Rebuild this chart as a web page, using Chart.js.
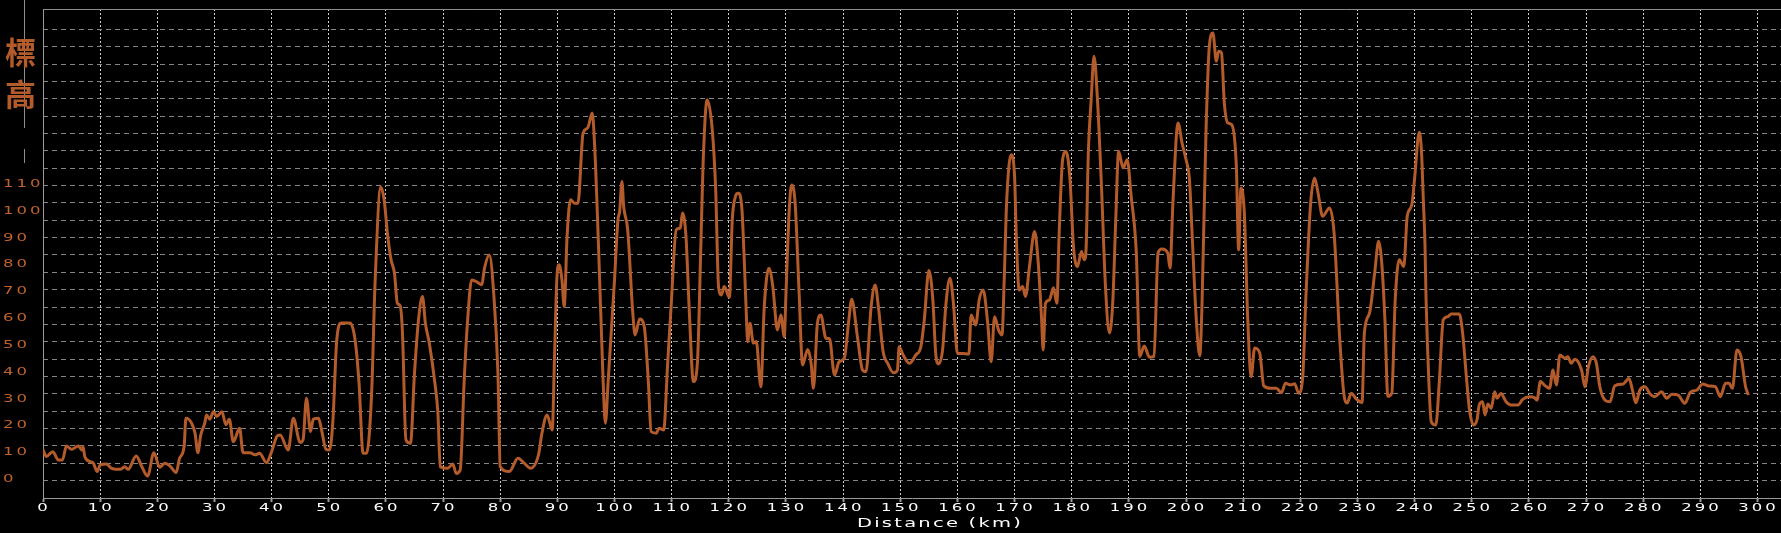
<!DOCTYPE html>
<html>
<head>
<meta charset="utf-8">
<script src="https://cdn.jsdelivr.net/npm/chart.js@4"></script>
<style>
    body { margin: 0; background: #000; }
    canvas { display: block; }
</style>
</head>
<body>
<canvas id="myChart" width="1781" height="533"></canvas>
<script>
// distance along the route (km) and elevation
const distKm = [
    0, 0.6, 1.7, 2.7, 3.4, 4.1, 5.0, 6.2, 6.8, 7.0, 7.3, 8.2, 8.8, 9.5, 10.0, 11.1, 12.0, 13.5, 14.3, 14.9,
    16.3, 17.3, 18.3, 19.4, 20.4, 21.3, 22.2, 23.3, 23.9, 24.7, 25.0, 26.0, 26.6, 27.1, 27.6, 28.3, 28.6, 29.2, 29.8, 30.4,
    31.3, 32.0, 32.6, 33.3, 34.4, 35.0, 36.2, 37.1, 37.9, 39.1, 40.0, 41.0, 41.5, 42.9, 43.8, 45.0, 45.5, 46.1, 46.8, 47.3,
    48.2, 48.8, 49.5, 50.1, 50.7, 51.4, 52.2, 53.7, 54.6, 55.3, 56.0, 56.6, 57.5, 58.1, 59.1, 59.7, 60.3, 60.9, 61.5, 62.0,
    62.5, 62.9, 63.5, 64.3, 65.0, 65.7, 66.4, 66.9, 67.6, 68.5, 69.1, 69.5, 70.8, 71.7, 72.3, 73.0, 73.7, 74.3, 75.0, 75.8,
    76.8, 77.2, 78.1, 78.9, 79.6, 80.0, 81.6, 83.1, 84.2, 85.3, 86.7, 87.3, 88.2, 89.1, 89.5, 89.9, 90.3, 90.8, 91.2, 91.7,
    92.3, 93.0, 93.6, 94.5, 95.3, 96.1, 96.5, 97.2, 98.0, 98.4, 98.9, 100.0, 100.6, 100.9, 101.3, 101.6, 102.3, 103.2, 103.6, 104.4,
    105.2, 105.9, 106.4, 107.3, 107.8, 108.6, 109.3, 109.9, 110.8, 111.5, 111.9, 112.5, 113.1, 113.8, 114.5, 115.1, 115.5, 116.2, 117.1, 117.7,
    118.2, 118.7, 119.2, 120.1, 120.6, 121.0, 121.7, 122.3, 122.7, 123.1, 123.3, 123.7, 124.3, 124.8, 125.6, 126.2, 127.0, 127.7, 128.5, 129.1,
    129.7, 130.0, 130.6, 131.0, 131.6, 132.3, 132.9, 133.8, 134.4, 134.8, 135.5, 136.1, 137.0, 137.6, 138.5, 139.3, 140.2, 141.0, 141.5, 142.5,
    143.4, 144.0, 144.9, 145.6, 146.2, 147.0, 147.8, 148.8, 149.5, 149.8, 150.5, 151.6, 152.7, 153.6, 154.2, 155.0, 155.7, 156.2, 156.7, 157.4,
    158.0, 158.7, 159.3, 160.0, 160.9, 162.0, 162.4, 163.2, 163.8, 164.5, 165.3, 165.9, 166.5, 167.2, 167.8, 168.2, 168.6, 169.4, 170.0, 170.3,
    170.8, 171.4, 171.9, 172.6, 173.5, 174.1, 174.7, 175.0, 175.4, 176.1, 176.8, 177.4, 177.8, 178.4, 179.0, 179.7, 180.3, 181.0, 181.7, 182.2,
    182.5, 182.9, 183.4, 183.9, 184.5, 185.2, 185.9, 186.6, 187.2, 187.7, 188.2, 189.0, 189.7, 190.4, 191.3, 191.9, 192.7, 193.6, 194.4, 195.1,
    195.8, 196.8, 197.2, 197.7, 198.6, 199.3, 200.0, 200.6, 201.0, 201.8, 202.4, 202.8, 203.5, 204.1, 204.7, 205.3, 205.7, 206.2, 206.7, 207.3,
    208.0, 208.8, 209.2, 209.6, 210.2, 210.8, 211.4, 212.0, 212.9, 213.6, 214.9, 215.8, 216.7, 217.4, 218.3, 219.0, 219.7, 220.4, 221.0, 221.8,
    222.5, 223.1, 223.9, 225.1, 225.9, 226.9, 227.6, 228.2, 228.9, 229.8, 230.8, 231.2, 232.1, 233.0, 233.7, 234.2, 234.8, 235.3, 236.0, 236.6,
    237.3, 238.1, 238.7, 239.5, 240.0, 240.8, 241.2, 241.5, 241.8, 242.0, 242.5, 242.9, 243.7, 244.3, 245.0, 245.8, 246.4, 247.8, 248.4, 249.0,
    249.6, 250.3, 250.9, 251.3, 251.9, 252.3, 252.8, 253.4, 254.0, 254.4, 255.1, 256.0, 256.9, 258.1, 258.9, 260.1, 261.0, 261.4, 262.0, 262.7,
    263.6, 264.2, 264.8, 265.4, 266.3, 266.8, 267.4, 268.0, 269.2, 269.8, 270.4, 271.2, 271.8, 272.4, 273.3, 274.2, 275.0, 276.5, 277.5, 278.1,
    278.7, 279.4, 280.3, 281.2, 282.0, 283.2, 284.1, 285.0, 286.1, 287.3, 288.2, 289.4, 290.4, 291.4, 292.6, 293.5, 294.4, 295.0, 295.6, 296.4,
    297.1, 297.9, 298.4
];
const elevation = [
    11, 8.5, 10.3, 7.2, 7.2, 12.4, 11.2, 12.4, 10.9, 12.2, 8.5, 6.6, 6.0, 2.9, 5.4, 5.7, 4.1, 3.7, 4.7, 3.7,
    8.7, 4.7, 1.2, 9.9, 4.5, 6.0, 5.0, 2.5, 7.8, 12.4, 22.7, 20.9, 17.2, 9.9, 16.5, 20.9, 24.0, 22.4, 25.2, 23.4,
    25.2, 20.3, 22.4, 14.0, 19.0, 9.9, 9.9, 9.1, 9.7, 6.2, 10.3, 16.2, 16.5, 10.9, 22.7, 13.7, 14.7, 30.2, 17.8, 22.4,
    22.7, 17.8, 11.2, 10.9, 20.9, 52.0, 58.2, 58.2, 52.0, 35.8, 9.7, 9.7, 32.1, 73.1, 108.9, 104, 91, 81.8, 76.8, 65.6,
    64.6, 54.4, 14.7, 13.4, 39.5, 59.4, 68.1, 58.2, 50.7, 37.0, 24.6, 4.7, 4.1, 5.7, 2.2, 3.5, 37.0, 59.4, 74.3, 73.7,
    72.5, 78.1, 83.6, 68.1, 39.5, 4.7, 2.9, 7.8, 6.0, 4.1, 9.1, 17.2, 24.0, 18.4, 45.7, 74.3, 79.9, 74.3, 64.4, 90.5,
    104.2, 102.9, 102.9, 129.0, 130.9, 136.5, 125.3, 86.8, 37.0, 20.9, 37.0, 74.3, 96.7, 99.8, 111.0, 101.7, 93.0, 61.9, 53.8, 59.7,
    56.9, 37.0, 17.8, 17.2, 19.0, 18.4, 43.3, 64.4, 93.0, 93.6, 99.2, 90.5, 61.9, 36.4, 43.3, 86.8, 117.8, 141.4, 130.3, 107.9,
    71.8, 68.7, 71.8, 67.8, 96.6, 104.1, 106.6, 100.4, 81.7, 59.4, 51.3, 58.1, 50.7, 51.3, 34.5, 64.3, 78.6, 71.8, 55.6, 61.2,
    53.1, 69.3, 101.6, 109.7, 102.9, 69.3, 42.6, 48.4, 43.2, 33.9, 58.1, 61.2, 52.5, 52.5, 38.8, 43.8, 45.1, 59.4, 67.1, 53.1,
    40.7, 40.1, 64.3, 72.4, 63.7, 47.5, 43.2, 39.7, 40.7, 49.4, 46.3, 43.2, 46.3, 49.4, 59.4, 77.8, 66.8, 46.9, 43.0, 48.2,
    65.6, 74.9, 65.6, 46.9, 46.9, 46.7, 61.2, 57.5, 66.8, 70.5, 58.1, 43.8, 60.6, 55.6, 53.8, 75.5, 102.9, 120.9, 112.8, 90.4,
    70.5, 71.8, 68.1, 79.2, 92.3, 81.7, 60.6, 48.2, 65.6, 66.8, 71.4, 65.6, 91.7, 119.0, 122.1, 111.6, 86.7, 79.3, 84.9, 81.8,
    85.5, 121.6, 141.5, 157.6, 141.5, 109.2, 71.9, 54.5, 66.9, 96.7, 122.2, 116.0, 119.1, 105.4, 84.3, 45.8, 49.7, 45.5, 45.8, 84.3,
    85.8, 84.3, 78.7, 102.9, 132.8, 125.3, 119.1, 111.6, 94.2, 59.4, 46.0, 65.7, 130.3, 162.0, 166.3, 155.8, 159.5, 158.9, 140.2, 132.8,
    132.1, 116.6, 85.5, 108.5, 99.2, 59.4, 38.3, 48.9, 47.0, 34.8, 33.9, 33.9, 32.3, 35.8, 35.2, 35.6, 32.1, 37.7, 69.4, 102.9,
    112.3, 106.7, 98.0, 101.1, 91.8, 52.0, 32.1, 28.4, 32.1, 29.9, 28.6, 54.5, 61.9, 76.8, 88.7, 81.8, 59.4, 30.9, 32.1, 66.9,
    81.8, 79.3, 98.0, 102.3, 112.3, 129.3, 122, 105, 88, 66.8, 35.8, 21.5, 20.2, 35.8, 59.4, 60.6, 61.6, 61.6, 54.4, 39.5,
    25.8, 20.2, 22.1, 27.7, 28.9, 24.0, 28.1, 26.4, 32.6, 30.2, 32.0, 28.9, 27.7, 27.7, 29.8, 30.8, 30.4, 29.5, 36.4, 35.1,
    33.9, 40.7, 35.1, 46.3, 45.1, 45.7, 43.2, 44.7, 40.7, 34.5, 42.0, 45.7, 43.2, 34.5, 29.5, 28.9, 34.8, 35.5, 37.6, 33.3,
    28.5, 33.3, 34.5, 31.8, 30.8, 32.6, 30.2, 31.7, 31.4, 28.3, 32.3, 33.3, 35.5, 34.8, 34.5, 30.8, 35.8, 35.8, 33.9, 48.2,
    45.7, 34.5, 31.4
];
const xTicks = [0, 10, 20, 30, 40, 50, 60, 70, 80, 90, 100, 110, 120, 130, 140, 150, 160, 170, 180, 190,
    200, 210, 220, 230, 240, 250, 260, 270, 280, 290, 300];
const yTicks = [0, 10, 20, 30, 40, 50, 60, 70, 80, 90, 100, 110];
const xTitle = 'Distance (km)';
const yTitle = ['標', '高'];

const orange = '#b35b2b';
const labelOrange = '#c0622c';

// draws text squeezed out wide, like the original labels
function wideText(c, text, x, y, align, stretch) {
    c.save();
    c.translate(x, y);
    c.scale(stretch, 1);
    c.textAlign = align;
    c.fillText(text, 0, 0);
    c.restore();
}

const decorations = {
    id: 'decorations',
    beforeDraw(chart) {
        const c = chart.ctx;
        c.save();
        c.fillStyle = '#000';
        c.fillRect(0, 0, chart.width, chart.height);
        c.restore();
    },
    afterDraw(chart) {
        const c = chart.ctx;
        const area = chart.chartArea;
        const xs = chart.scales.x;
        const ys = chart.scales.y;
        c.save();

        // frame line on top of the plot
        c.strokeStyle = '#8c8c8c';
        c.lineWidth = 1;
        c.beginPath();
        c.moveTo(area.left, Math.round(area.top) + 0.5);
        c.lineTo(area.right, Math.round(area.top) + 0.5);
        c.stroke();

        // thin line behind the vertical axis title
        c.beginPath();
        c.moveTo(24.5, 0); c.lineTo(24.5, 128);
        c.moveTo(24.5, 149); c.lineTo(24.5, 163);
        c.stroke();

        c.textBaseline = 'middle';
        c.letterSpacing = '2px';
        c.font = '11px "DejaVu Sans"';

        c.fillStyle = '#ffffff';
        xTicks.forEach(v => {
            wideText(c, String(v), xs.getPixelForValue(v) + 1, area.bottom + 10.5, 'center', 1.5);
        });

        c.fillStyle = labelOrange;
        yTicks.forEach(v => {
            wideText(c, String(v), 3, ys.getPixelForValue(v), 'left', 1.5);
        });

        c.fillStyle = '#ffffff';
        c.letterSpacing = '1.5px';
        c.font = '13px "DejaVu Sans"';
        wideText(c, xTitle, (area.left + area.right) / 2 + 28, area.bottom + 26, 'center', 1.5);

        c.letterSpacing = '0px';
        c.fillStyle = orange;
        c.font = 'bold 31px "Noto Sans CJK TC"';
        c.textAlign = 'center';
        c.fillText(yTitle[0], 20.5, 52);
        c.fillText(yTitle[1], 20.5, 94);
        c.restore();
    }
};

const ctx = document.getElementById('myChart').getContext('2d');
const myChart = new Chart(ctx, {
    type: 'line',
    data: {
        datasets: [{
            label: '標高',
            data: distKm.map((d, i) => ({ x: d, y: elevation[i] })),
            borderColor: orange,
            borderWidth: 3,
            pointRadius: 0,
            fill: false,
            cubicInterpolationMode: 'monotone'
        }]
    },
    options: {
        responsive: false,
        devicePixelRatio: 1,
        animation: false,
        layout: { padding: { top: 9, left: 0, right: 0, bottom: 0 } },
        plugins: {
            legend: { display: false },
            tooltip: { enabled: false },
            title: { display: false }
        },
        scales: {
            x: {
                type: 'linear',
                min: 0,
                max: 304.1,
                afterBuildTicks: scale => { scale.ticks = xTicks.map(v => ({ value: v })); },
                afterFit: scale => { scale.height = 35; },
                ticks: { display: false },
                grid: {
                    color: '#d2d2d2',
                    lineWidth: 1,
                    tickColor: '#9a9a9a',
                    tickLength: 4,
                    tickWidth: 2
                },
                border: { color: '#9a9a9a', width: 1, dash: [2, 2] }
            },
            y: {
                position: 'left',
                min: -6.97,
                max: 175.24,
                afterFit: scale => { scale.width = 43; },
                ticks: { display: false },
                grid: { display: false },
                border: { color: '#9a9a9a', width: 1 }
            },
            yGrid: {
                position: 'left',
                min: 0,
                max: 28.17,
                afterFit: scale => { scale.width = 0; },
                ticks: { display: false, stepSize: 1 },
                grid: { color: '#858585', lineWidth: 1, drawTicks: false },
                border: { display: false, dash: [5, 4] }
            }
        }
    },
    plugins: [decorations]
});
</script>
</body>
</html>
